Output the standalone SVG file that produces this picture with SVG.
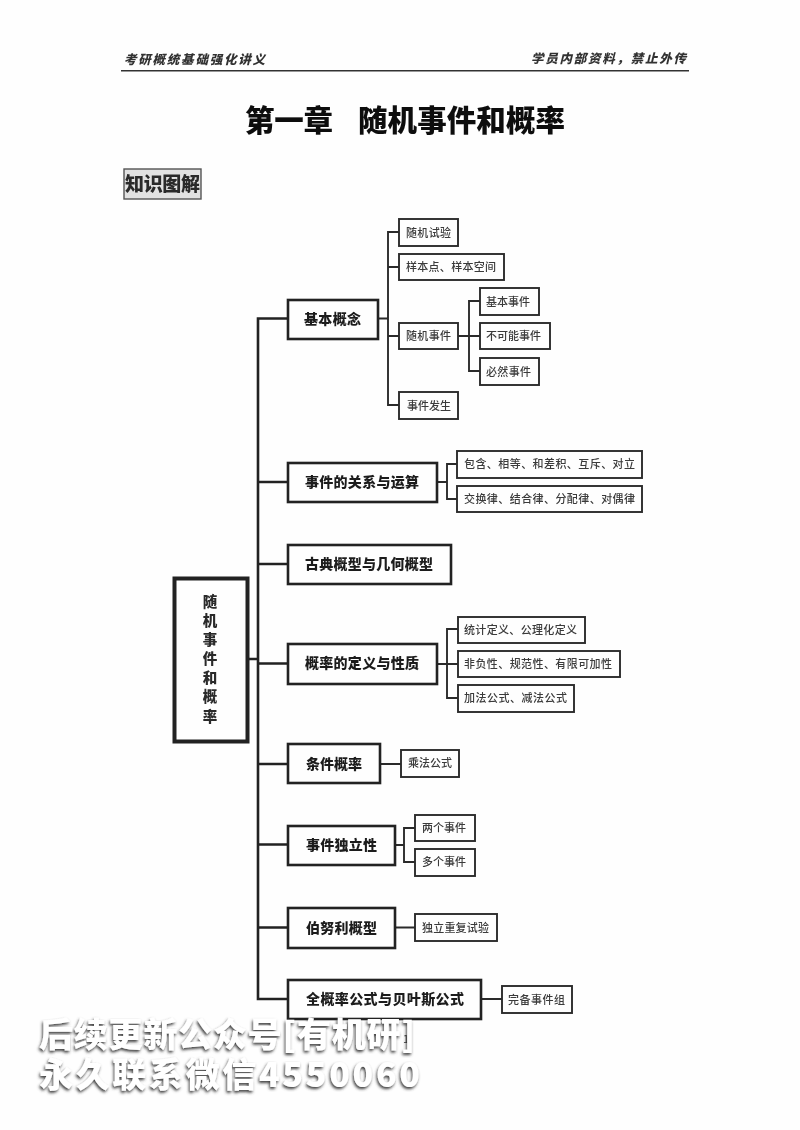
<svg xmlns="http://www.w3.org/2000/svg" width="800" height="1130" viewBox="0 0 800 1130">
<style>
text{font-family:"Noto Sans CJK SC","Noto Sans",sans-serif;fill:#2a2a2a}
.b rect{fill:#fefefe;stroke:#222;stroke-width:2.6}
.s rect{fill:#fefefe;stroke:#2a2a2a;stroke-width:1.9}
.b text{font-size:14px;font-weight:900;fill:#1c1c1c}
.s text{font-size:11px;font-weight:500;fill:#3a3a3a}
#connectors path{fill:none;stroke-linecap:square}
.m{stroke:#222;stroke-width:2.6}
.n{stroke:#2a2a2a;stroke-width:1.9}
.hd{font-size:12.5px;font-weight:900;font-style:italic;fill:#333}
.ti{font-size:29.5px;font-weight:900;fill:#0c0c0c}
.wm{font-size:34px;font-weight:900;fill:#fff;filter:url(#shadow)}
</style>
<defs>
<filter id="soft" x="0" y="0" width="100%" height="100%"><feGaussianBlur stdDeviation="0.35"/></filter>
<filter id="shadow" x="-5%" y="-20%" width="110%" height="140%"><feDropShadow dx="-1" dy="2" stdDeviation="1.4" flood-color="#3c3c3c" flood-opacity="1"/></filter>
</defs>
<rect width="800" height="1130" fill="#fefefe"/>
<g filter="url(#soft)">
<g id="header">
<text class="hd" x="124" y="64" textLength="141">考研概统基础强化讲义</text>
<text class="hd" x="531" y="63" textLength="155">学员内部资料，禁止外传</text>
<path d="M121 70.700H689" stroke="#333" stroke-width="1.5"/>
</g>
<g id="title">
<text class="ti" x="245" y="131" textLength="88">第一章</text>
<text class="ti" x="358" y="131" textLength="207">随机事件和概率</text>
</g>
<g id="section">
<rect x="124" y="169" width="77" height="30" fill="#e2e2e2" stroke="#555" stroke-width="1.4"/>
<text x="125" y="191" font-size="19" font-weight="900" fill="#111" textLength="75">知识图解</text>
</g>
<g id="connectors">
<path class="m" d="M287 318.500H258V999H288M258 482H288M258 564H288M249 659H258M258 663.500H288M258 764H288M258 844.500H288M258 927.500H288"/>
<path class="n" d="M378 318.500H388M399 232H388V405H399M388 267H399M388 336H399M458 336H480M480 301H469V371H480"/>
<path class="n" d="M437 482H447M458 464H447V499H458M437 664H458M458 629H447V698H458"/>
<path class="n" d="M380 764H401M395 845H404M415 828H404V862H415M395 927.500H415M481 999H502"/>
</g>
<g id="root"><rect x="174.500" y="578.500" width="73" height="163" fill="#fefefe" stroke="#222" stroke-width="4"/>
<text font-size="14.500" font-weight="900" fill="#1c1c1c" text-anchor="middle"><tspan x="210" y="607">随</tspan><tspan x="210" y="626">机</tspan><tspan x="210" y="645">事</tspan><tspan x="210" y="664">件</tspan><tspan x="210" y="683">和</tspan><tspan x="210" y="702">概</tspan><tspan x="210" y="722">率</tspan></text></g>
<g id="n-jbgn" class="b"><rect x="288" y="300" width="90" height="39"/><text x="304" y="324" textLength="57">基本概念</text></g>
<g id="n-sjgx" class="b"><rect x="288" y="463" width="149" height="39"/><text x="305" y="487" textLength="114">事件的关系与运算</text></g>
<g id="n-gdgx" class="b"><rect x="288" y="545" width="163" height="39"/><text x="305" y="569" textLength="128">古典概型与几何概型</text></g>
<g id="n-gldy" class="b"><rect x="288" y="644" width="149" height="40"/><text x="305" y="668" textLength="114">概率的定义与性质</text></g>
<g id="n-tjgl" class="b"><rect x="288" y="744" width="92" height="39"/><text x="306" y="769" textLength="56">条件概率</text></g>
<g id="n-sjdl" class="b"><rect x="288" y="826" width="107" height="39"/><text x="306" y="850" textLength="71">事件独立性</text></g>
<g id="n-bnl" class="b"><rect x="288" y="908" width="107" height="40"/><text x="306" y="933" textLength="71">伯努利概型</text></g>
<g id="n-qgl" class="b"><rect x="288" y="980" width="193" height="39"/><text x="306" y="1004" textLength="158">全概率公式与贝叶斯公式</text></g>
<g id="n-sjsy" class="s"><rect x="399" y="219" width="59" height="27"/><text x="406" y="237" textLength="45">随机试验</text></g>
<g id="n-ybd" class="s"><rect x="399" y="254" width="105" height="26"/><text x="406" y="271" textLength="90">样本点、样本空间</text></g>
<g id="n-sjsj" class="s"><rect x="399" y="323" width="59" height="26"/><text x="406" y="340" textLength="45">随机事件</text></g>
<g id="n-sjfs" class="s"><rect x="399" y="392" width="59" height="27"/><text x="407" y="410" textLength="44">事件发生</text></g>
<g id="n-jbsj" class="s"><rect x="480" y="288" width="59" height="27"/><text x="486" y="306" textLength="44">基本事件</text></g>
<g id="n-bkn" class="s"><rect x="480" y="323" width="70" height="26"/><text x="486" y="340" textLength="55">不可能事件</text></g>
<g id="n-brsj" class="s"><rect x="480" y="358" width="59" height="27"/><text x="486" y="376" textLength="45">必然事件</text></g>
<g id="n-bh" class="s"><rect x="457" y="451" width="185" height="27"/><text x="464" y="468" textLength="171">包含、相等、和差积、互斥、对立</text></g>
<g id="n-jhl" class="s"><rect x="457" y="486" width="185" height="26"/><text x="464" y="503" textLength="171">交换律、结合律、分配律、对偶律</text></g>
<g id="n-tjdy" class="s"><rect x="458" y="617" width="127" height="26"/><text x="464" y="634" textLength="113">统计定义、公理化定义</text></g>
<g id="n-ffx" class="s"><rect x="458" y="651" width="162" height="26"/><text x="464" y="668" textLength="148">非负性、规范性、有限可加性</text></g>
<g id="n-jfgs" class="s"><rect x="458" y="685" width="116" height="27"/><text x="464" y="702" textLength="103">加法公式、减法公式</text></g>
<g id="n-cfgs" class="s"><rect x="401" y="750" width="58" height="27"/><text x="408" y="767" textLength="44">乘法公式</text></g>
<g id="n-lgsj" class="s"><rect x="415" y="815" width="60" height="26"/><text x="422" y="832" textLength="44">两个事件</text></g>
<g id="n-dgsj" class="s"><rect x="415" y="849" width="60" height="27"/><text x="422" y="866" textLength="44">多个事件</text></g>
<g id="n-dlcf" class="s"><rect x="415" y="914" width="82" height="27"/><text x="422" y="932" textLength="67">独立重复试验</text></g>
<g id="n-wbsj" class="s"><rect x="502" y="986" width="70" height="27"/><text x="508" y="1004" textLength="57">完备事件组</text></g>
<text id="page" x="403" y="1043" font-size="11" fill="#333">1</text>
</g>
<g id="watermark">
<text class="wm" x="39" y="1047" textLength="376">后续更新公众号[有机研]</text>
<text class="wm" x="39" y="1087" textLength="381">永久联系微信4550060</text>
</g>
</svg>
